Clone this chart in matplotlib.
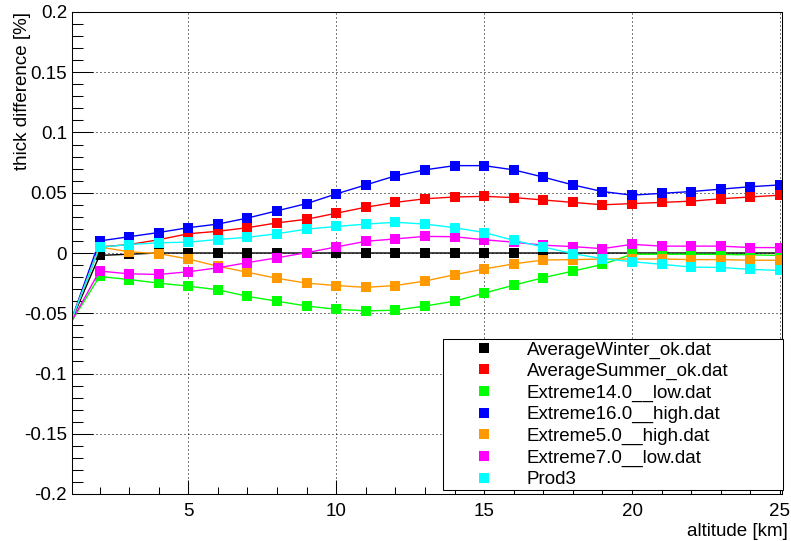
import matplotlib
matplotlib.use('Agg')
import matplotlib.pyplot as plt
from matplotlib.lines import Line2D
from matplotlib.ticker import MultipleLocator, FuncFormatter

plt.rcParams['font.family'] = ['Liberation Sans', 'DejaVu Sans']
plt.rcParams['axes.unicode_minus'] = False

# ---------------- data ----------------
altitude = list(range(1, 26))

average_winter = [-0.059, -0.002, -0.001, 0.0, 0.0, 0.0, 0.0, 0.0, 0.0, 0.0,
                  0.0, 0.0, 0.0, 0.0, 0.0, 0.0, 0.0, 0.0, 0.0, 0.0,
                  0.0, 0.0, 0.0, 0.0, 0.0]
average_summer = [-0.059, 0.005, 0.007, 0.011, 0.016, 0.018, 0.021, 0.025, 0.028, 0.033,
                  0.038, 0.042, 0.045, 0.0465, 0.047, 0.046, 0.044, 0.042, 0.040, 0.041,
                  0.042, 0.043, 0.045, 0.0465, 0.048]
extreme14_low = [-0.059, -0.0195, -0.022, -0.025, -0.0275, -0.0305, -0.036, -0.040, -0.044, -0.0467,
                 -0.048, -0.0475, -0.044, -0.040, -0.0333, -0.0267, -0.0205, -0.015, -0.0095, -0.001,
                 -0.001, -0.001, -0.0012, -0.0015, -0.002]
extreme16_high = [-0.059, 0.010, 0.0135, 0.017, 0.021, 0.024, 0.029, 0.035, 0.041, 0.049,
                  0.0565, 0.064, 0.069, 0.0725, 0.0725, 0.069, 0.063, 0.0565, 0.051, 0.048,
                  0.0495, 0.051, 0.053, 0.055, 0.0565]
extreme5_high = [-0.059, 0.005, 0.001, -0.0005, -0.005, -0.011, -0.016, -0.021, -0.025, -0.027,
                 -0.0285, -0.027, -0.0233, -0.018, -0.0133, -0.009, -0.0058, -0.0055, -0.005, -0.005,
                 -0.005, -0.0055, -0.0055, -0.006, -0.006]
extreme7_low = [-0.059, -0.015, -0.0173, -0.0178, -0.0156, -0.0123, -0.008, -0.004, 0.0003, 0.005,
                0.0097, 0.0117, 0.0138, 0.0135, 0.011, 0.009, 0.0065, 0.0053, 0.0036, 0.0072,
                0.0057, 0.0057, 0.0057, 0.0045, 0.0045]
prod3 = [-0.059, 0.0048, 0.007, 0.0085, 0.009, 0.0112, 0.013, 0.016, 0.0198, 0.022,
         0.024, 0.0255, 0.024, 0.021, 0.017, 0.0105, 0.005, -0.0005, -0.0047, -0.0072,
         -0.0094, -0.0117, -0.012, -0.0136, -0.0145]

series_names = ['AverageWinter_ok.dat', 'AverageSummer_ok.dat', 'Extreme14.0__low.dat',
                'Extreme16.0__high.dat', 'Extreme5.0__high.dat', 'Extreme7.0__low.dat', 'Prod3']
series_values = [average_winter, average_summer, extreme14_low, extreme16_high,
                 extreme5_high, extreme7_low, prod3]
series_colors = ['#000000', '#ff0000', '#00ff00', '#0000ff', '#ff9900', '#ff00ff', '#00ffff']

x_label = 'altitude [km]'
y_label = 'thick difference [%]'

# ---------------- figure ----------------
W, H = 791, 541
fig = plt.figure(figsize=(W / 100, H / 100), dpi=100)
ax = fig.add_axes([72 / W, 1 - 494 / H, 710 / W, 482 / H])
ax.set_xlim(1.07, 25.07)
ax.set_ylim(-0.2, 0.2)
ax.set_axisbelow(True)

for vals, name, col in zip(series_values, series_names, series_colors):
    ax.plot(altitude, vals, color=col, lw=1.0, marker='s', ms=7.8, mew=0,
            markevery=slice(1, None), label=name)

ax.xaxis.set_major_locator(MultipleLocator(5))
ax.xaxis.set_minor_locator(MultipleLocator(1))
ax.yaxis.set_major_locator(MultipleLocator(0.05))
ax.yaxis.set_minor_locator(MultipleLocator(0.01))
ax.yaxis.set_major_formatter(FuncFormatter(lambda v, p: f"{round(v, 3) + 0.0:g}"))

ax.tick_params(which='both', direction='in', top=False, right=False, colors='black')
ax.tick_params(axis='x', which='major', length=10.4, width=0.75, labelsize=13.5, pad=6.3)
ax.tick_params(axis='x', which='minor', length=5.2, width=0.75)
ax.tick_params(axis='y', which='major', length=15.3, width=0.75, labelsize=13.5, pad=3.6)
ax.tick_params(axis='y', which='minor', length=7.7, width=0.75)
for s in ax.spines.values():
    s.set_linewidth(0.75)

ax.grid(which='major', color='black', linestyle=(0, (1, 3)), linewidth=0.72)

ax.set_xlabel(x_label, fontsize=13.5, loc='right')
ax.xaxis.set_label_coords((788 - 72) / 710, (494 - 523) / 482)
ax.set_ylabel(y_label, fontsize=13.5, loc='top')
ax.yaxis.set_label_coords((31.5 - 72) / 710, 1.0)

handles = [Line2D([], [], ls='none', marker='s', ms=7.6, mew=0, color=c) for c in series_colors]
leg = ax.legend(handles, series_names, loc='lower left',
                bbox_to_anchor=(0.5225, 0.0083, 0.479, 0.3154), mode='expand',
                fancybox=False, edgecolor='black', framealpha=1, fontsize=13.5,
                borderpad=0.1, labelspacing=0.23, handlelength=4.16, handletextpad=0.22,
                borderaxespad=0)
leg.get_frame().set_linewidth(0.75)

fig.savefig('out.png', dpi=100)
